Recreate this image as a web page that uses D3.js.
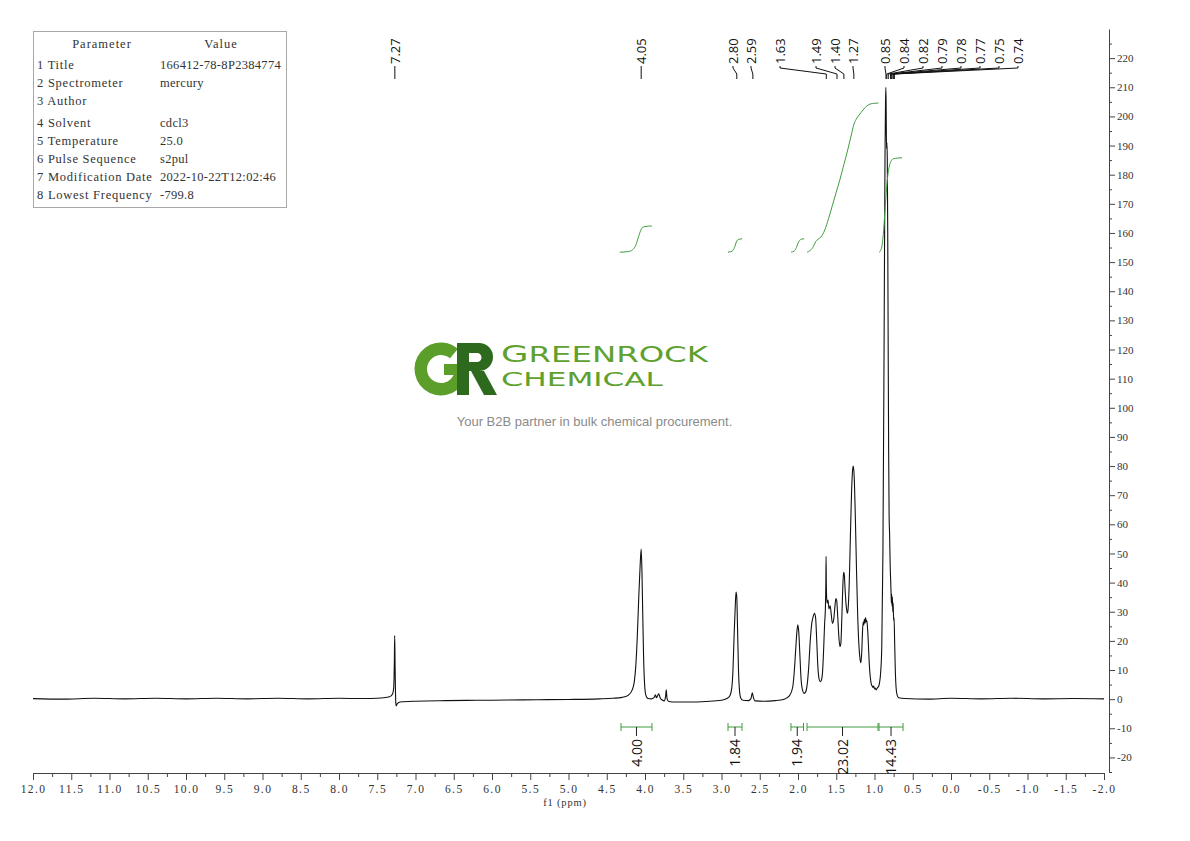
<!DOCTYPE html>
<html><head><meta charset="utf-8">
<script src="https://cdn.jsdelivr.net/npm/d3@7"></script>
<style>body{margin:0;background:#fff}svg{display:block}</style>
</head><body>
<svg id="c" width="1190" height="841"></svg>
<script>
// ---------------- DATA ----------------
const xTickValues = [12.0,11.5,11.0,10.5,10.0,9.5,9.0,8.5,8.0,7.5,7.0,6.5,6.0,5.5,5.0,4.5,4.0,3.5,3.0,2.5,2.0,1.5,1.0,0.5,0.0,-0.5,-1.0,-1.5,-2.0];
const yTickValues = [-20,-10,0,10,20,30,40,50,60,70,80,90,100,110,120,130,140,150,160,170,180,190,200,210,220];

// spectrum: [ppm, intensity]
const spectrum = [
 [12.0,0.2],[11.6,0.0],[11.2,0.3],[10.8,0.1],[10.4,0.3],[10.0,0.1],[9.6,0.3],[9.2,0.1],[8.8,0.3],[8.4,0.1],[8.0,0.3],[7.7,0.2],[7.45,0.4],[7.34,0.8],
 [7.30,1.8],[7.285,4],[7.277,12],[7.272,21.8],[7.267,12],[7.262,3],[7.257,-1.5],[7.252,-2.3],[7.24,-1.6],[7.2,-1.0],[7.0,-0.7],[6.6,-0.5],[6.2,-0.4],[5.8,-0.3],[5.4,-0.2],[5.0,-0.1],[4.6,0.1],[4.42,0.3],[4.3,0.6],
 [4.22,1.3],[4.17,3],[4.14,6],[4.12,11.5],[4.10,22],[4.08,36],[4.065,45],[4.05,51.5],[4.04,44],[4.03,30],[4.018,14],[4.005,5],[3.99,1.5],[3.96,0.2],[3.92,0.1],
 [3.88,0.6],[3.865,1.5],[3.85,0.5],[3.835,1.2],[3.82,1.8],[3.80,0.3],[3.78,-0.2],[3.745,-0.6],[3.73,1.2],[3.722,3.2],[3.712,0.2],[3.69,-0.8],[3.6,-1.0],[3.4,-1.0],[3.2,-0.8],[3.0,-0.4],[2.93,0.2],
 [2.89,1.2],[2.865,4],[2.85,10],[2.835,22],[2.82,32],[2.81,36.8],[2.80,35],[2.79,24],[2.778,10],[2.765,3],[2.75,0.5],[2.72,-0.4],[2.65,-0.5],[2.615,0.2],[2.597,2.2],[2.585,0.8],[2.56,-0.6],[2.45,-0.7],[2.3,-0.5],[2.18,0.0],
 [2.11,1.2],[2.07,4],[2.05,9],[2.03,17],[2.015,23],[2.002,25.5],[1.99,23],[1.975,15],[1.96,7],[1.94,3],[1.92,2],[1.90,2.5],
 [1.88,5],[1.86,11],[1.84,20],[1.82,26],[1.80,28.5],[1.785,29.5],[1.77,28],[1.755,20],[1.74,11],[1.725,7],[1.71,6],[1.695,6.5],[1.68,9],[1.665,17],[1.652,26],[1.642,31],[1.636,40],
 [1.633,49],[1.629,38],[1.62,33],[1.608,34],[1.595,31],[1.58,32],[1.565,29],[1.55,26],[1.535,27],[1.52,31],[1.505,34.5],[1.495,34],[1.48,28],[1.465,21],[1.45,18],[1.44,19],[1.428,27],
 [1.415,38],[1.404,43.5],[1.396,43],[1.385,38],[1.37,32],[1.355,29.5],[1.345,31],[1.33,40],[1.315,56],[1.30,71],[1.285,79],[1.277,80],[1.265,76],[1.25,62],[1.235,44],[1.22,29],[1.205,19],[1.19,14],[1.178,12.5],
 [1.167,16],[1.157,23],[1.148,26.5],[1.14,25.5],[1.132,27.5],[1.124,26],[1.116,28],[1.108,26.5],[1.10,27],[1.09,24],[1.08,19],[1.07,13],[1.06,9],[1.05,6.5],[1.04,5],[1.03,4.5],[1.02,4],[1.01,4.5],[1.00,3.5],[0.99,3.8],[0.98,3.2],[0.97,3.5],[0.96,4],[0.95,4.2],
 [0.935,5.5],[0.92,9],[0.905,18],[0.89,50],[0.875,120],[0.863,185],[0.856,205],[0.851,210],[0.847,201],[0.843,189],[0.838,191],[0.833,186],[0.827,160],[0.821,120],[0.815,85],[0.809,63],
 [0.802,56],[0.796,47],[0.789,41],[0.783,36],[0.779,33],[0.775,36],[0.771,32],[0.766,35],[0.761,30],[0.756,33],[0.75,27],[0.744,28],[0.737,20],[0.728,10],[0.718,4],[0.705,1.5],[0.685,0.5],
 [0.6,0.2],[0.3,0.0],[0.0,0.3],[-0.4,0.1],[-0.8,0.3],[-1.2,0.1],[-1.6,0.2],[-2.0,0.1]
];

// integral curves: [ppm, axis value]
const integral1 = [[4.33,153.4],[4.22,153.6],[4.16,154.3],[4.12,155.8],[4.09,158.2],[4.06,160.6],[4.035,161.8],[4.0,162.2],[3.91,162.4]];
const integral2 = [[2.915,153.4],[2.86,153.8],[2.83,155.0],[2.81,156.6],[2.79,157.6],[2.76,157.9],[2.73,158.0]];
const integral3 = [[2.09,153.4],[2.05,153.8],[2.02,155.0],[2.0,156.5],[1.98,157.4],[1.95,157.9],[1.92,158.0]];
const integral4 = [[1.88,153.4],[1.84,154.0],[1.80,155.3],[1.77,157.0],[1.74,157.8],[1.70,158.6],[1.65,161.0],[1.60,165.0],[1.55,169.5],[1.50,174.0],[1.45,178.5],[1.40,183.5],[1.35,188.5],[1.30,194.0],[1.27,197.2],[1.24,199.0],[1.20,200.5],[1.15,202.2],[1.10,203.6],[1.05,204.3],[1.0,204.5],[0.95,204.6]];
const integral5 = [[0.94,153.4],[0.92,154.0],[0.90,156.0],[0.88,161.0],[0.865,167.0],[0.85,172.5],[0.835,177.5],[0.82,181.0],[0.80,183.5],[0.78,184.8],[0.75,185.5],[0.70,185.7],[0.64,185.8]];
const integralCurves = [integral1, integral2, integral3, integral4, integral5];

// integration regions
const integralFrom = [4.314, 2.915, 2.092, 1.882, 0.941];
const integralTo   = [3.909, 2.732, 1.928, 0.954, 0.627];
const integralLabels = ["4.00", "1.84", "1.94", "23.02", "14.43"];

// peak picks
const peakPpm = [7.27, 4.05, 2.80, 2.59, 1.63, 1.49, 1.40, 1.27, 0.85, 0.84, 0.82, 0.79, 0.78, 0.77, 0.75, 0.74];
const peakText = ["7.27","4.05","2.80","2.59","1.63","1.49","1.40","1.27","0.85","0.84","0.82","0.79","0.78","0.77","0.75","0.74"];

// parameter table
const paramNames = ["1 Title","2 Spectrometer","3 Author","4 Solvent","5 Temperature","6 Pulse Sequence","7 Modification Date","8 Lowest Frequency"];
const paramValues = ["166412-78-8P2384774","mercury","","cdcl3","25.0","s2pul","2022-10-22T12:02:46","-799.8"];

// ---------------- LAYOUT ----------------
const svg = d3.select("#c");
const x = d3.scaleLinear().domain([12, -2]).range([33, 1104]);
const y = d3.scaleLinear().domain([-25, 230]).range([772, 29]);
const serif = "'Liberation Serif', 'DejaVu Serif', serif";
const sans = "'Open Sans', 'DejaVu Sans', sans-serif";
const green = "#3f9b3f";
// label slot positions (pixel layout of the peak-pick labels); null = directly above the peak
const labelSlots = [null, null, 733, 751, 780, 816, 835, 853, 885, 904, 923, 942, 961, 980, 999, 1018];

// ---- parameter table ----
const tbl = svg.append("g");
tbl.append("rect").attr("x",33.5).attr("y",31.5).attr("width",253).attr("height",176)
  .attr("fill","none").attr("stroke","#a8a8a8");
const tStyle = (s,ls) => s.attr("font-family",serif).attr("font-size",12.5).attr("fill","#333").attr("letter-spacing",ls);
tStyle(tbl.append("text").attr("x",102).attr("y",48).attr("text-anchor","middle").text("Parameter"),1.0);
tStyle(tbl.append("text").attr("x",221).attr("y",48).attr("text-anchor","middle").text("Value"),1.0);
const rowY = [69, 87, 105, 127, 145, 163, 181, 199];
paramNames.forEach((n,i)=>{
  tStyle(tbl.append("text").attr("x",37).attr("y",rowY[i]).text(n),0.75);
  tStyle(tbl.append("text").attr("x",160).attr("y",rowY[i]).text(paramValues[i]),0.3);
});

// ---- logo / watermark ----
const logo = svg.append("g");
const gArc = d3.arc().innerRadius(14).outerRadius(26.5).startAngle(Math.PI/2).endAngle(2*Math.PI + 40*Math.PI/180);
logo.append("path").attr("d", gArc()).attr("transform","translate(441,369)").attr("fill","#5b9e2a");
logo.append("rect").attr("x",444).attr("y",364).attr("width",24).attr("height",11).attr("fill","#5b9e2a");
logo.append("path").attr("fill","#2e6a1d").attr("fill-rule","evenodd")
  .attr("d","M457,343 L479,343 A14,14 0 0 1 479,371 L469,371 L469,395 L457,395 Z M469,353 L477,353 A4.5,4.5 0 0 1 477,362 L469,362 Z");
logo.append("path").attr("fill","#2e6a1d").attr("d","M471,371 L484,371 L497,395 L484,395 Z");
const t1 = logo.append("text").attr("x",501).attr("y",362).attr("fill","#5ea12e")
  .attr("font-family","'DejaVu Sans', sans-serif").attr("textLength",207).attr("lengthAdjust","spacingAndGlyphs");
t1.append("tspan").attr("font-size",23).text("G");
t1.append("tspan").attr("font-size",21).text("REENROCK");
const t2 = logo.append("text").attr("x",501).attr("y",386).attr("fill","#5ea12e")
  .attr("font-family","'DejaVu Sans', sans-serif").attr("textLength",162).attr("lengthAdjust","spacingAndGlyphs");
t2.append("tspan").attr("font-size",20).text("C");
t2.append("tspan").attr("font-size",19.5).text("HEMICAL");
logo.append("text").attr("x",594.5).attr("y",426).attr("text-anchor","middle")
  .attr("font-family","'Liberation Sans', Arial, sans-serif").attr("font-size",13).attr("fill","#8a8a8a")
  .text("Your B2B partner in bulk chemical procurement.");

// ---- axes ----
const minorX = d3.range(-1.75, 12, 0.5);
const xAxisG = svg.append("g").attr("transform","translate(0,773)");
xAxisG.call(d3.axisBottom(x).tickValues(minorX).tickSize(4).tickSizeOuter(0).tickFormat(""));
xAxisG.select(".domain").remove();
const xAxis = svg.append("g").attr("transform","translate(0,773)")
  .call(d3.axisBottom(x).tickValues(xTickValues).tickSize(7).tickSizeOuter(0).tickFormat(d=>d.toFixed(1)));
xAxis.selectAll("text").attr("y",12).attr("font-family",serif).attr("font-size",11.5).attr("fill","#333").attr("letter-spacing",1.4);
svg.append("text").attr("x",565).attr("y",806).attr("text-anchor","middle")
  .attr("font-family",serif).attr("font-size",10.5).attr("fill","#333").attr("letter-spacing",0.8).text("f1 (ppm)");

const minorY = d3.range(-25, 231, 10);
const yMinor = svg.append("g").attr("transform","translate(1109,0)")
  .call(d3.axisRight(y).tickValues(minorY).tickSize(3).tickSizeOuter(0).tickFormat(""));
yMinor.select(".domain").remove();
const yAxis = svg.append("g").attr("transform","translate(1109,0)")
  .call(d3.axisRight(y).tickValues(yTickValues).tickSize(6).tickSizeOuter(0).tickPadding(2).tickFormat(d=>String(d)));
yAxis.selectAll("text").attr("font-family",serif).attr("font-size",11).attr("fill","#333");
svg.selectAll(".tick line, .domain").attr("stroke","#444");

// ---- spectrum ----
const line = d3.line().x(d=>x(d[0])).y(d=>y(d[1])).curve(d3.curveMonotoneX);
svg.append("path").datum(spectrum).attr("d",line).attr("fill","none").attr("stroke","#111").attr("stroke-width",1.1);

// ---- integral curves ----
integralCurves.forEach(c=>{
  svg.append("path").datum(c).attr("d",line).attr("fill","none").attr("stroke",green).attr("stroke-width",1);
});

// ---- integration brackets ----
const by = 727;
integralFrom.forEach((f,i)=>{
  const a = x(f), b = x(integralTo[i]), m = (a+b)/2;
  const g = svg.append("g");
  g.append("line").attr("x1",a).attr("x2",b).attr("y1",by).attr("y2",by).attr("stroke",green).attr("stroke-width",1);
  [a,b].forEach(e=>g.append("line").attr("x1",e).attr("x2",e).attr("y1",by-4).attr("y2",by+4).attr("stroke",green).attr("stroke-width",1));
  g.append("line").attr("x1",m).attr("x2",m).attr("y1",by).attr("y2",by+9).attr("stroke","#222").attr("stroke-width",1);
  g.append("text").attr("transform",`translate(${m},739) rotate(-90)`).attr("dy","0.36em")
    .attr("text-anchor","end").attr("font-family",sans).attr("font-size",14).attr("fill","#111").text(integralLabels[i]);
});

// ---- peak picks ----
peakPpm.forEach((p,i)=>{
  const px = x(p), sx = labelSlots[i] == null ? px : labelSlots[i];
  svg.append("path").attr("d",`M${sx},66 L${sx},68 L${px},74 L${px},79`).attr("fill","none").attr("stroke","#111").attr("stroke-width",1);
  svg.append("text").attr("transform",`translate(${sx},64) rotate(-90)`).attr("dy","0.36em")
    .attr("text-anchor","start").attr("font-family",sans).attr("font-size",13).attr("fill","#111").text(peakText[i]);
});
</script>
</body></html>
